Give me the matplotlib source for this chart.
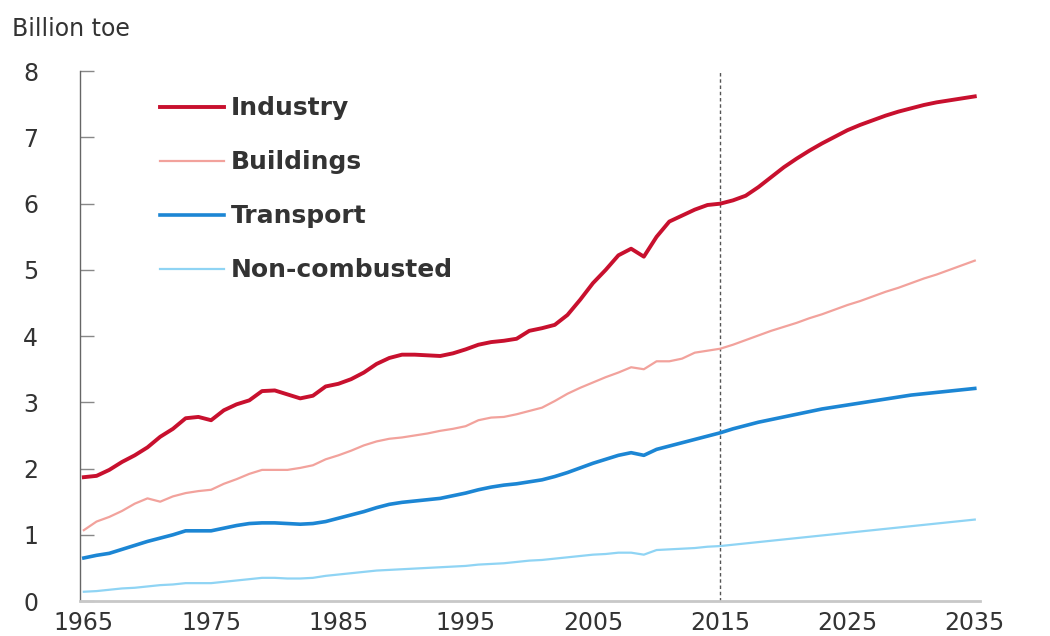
#!/usr/bin/env python3
"""Final energy consumption by sector, 1965-2035 (billion toe)."""

import matplotlib
matplotlib.use("Agg")
import matplotlib.pyplot as plt

years = list(range(1965, 2036))

industry = [
    1.87, 1.89, 1.98, 2.10, 2.20, 2.32, 2.48, 2.60, 2.76, 2.78,
    2.73, 2.88, 2.97, 3.03, 3.17, 3.18, 3.12, 3.06, 3.10, 3.24,
    3.28, 3.35, 3.45, 3.58, 3.67, 3.72, 3.72, 3.71, 3.70, 3.74,
    3.80, 3.87, 3.91, 3.93, 3.96, 4.08, 4.12, 4.17, 4.32, 4.55,
    4.80, 5.00, 5.22, 5.32, 5.20, 5.50, 5.73, 5.82, 5.91, 5.98,
    6.00, 6.05, 6.12, 6.25, 6.40, 6.55, 6.68, 6.80, 6.91, 7.01,
    7.11, 7.19, 7.26, 7.33, 7.39, 7.44, 7.49, 7.53, 7.56, 7.59,
    7.62,
]
buildings = [
    1.07, 1.20, 1.27, 1.36, 1.47, 1.55, 1.50, 1.58, 1.63, 1.66,
    1.68, 1.77, 1.84, 1.92, 1.98, 1.98, 1.98, 2.01, 2.05, 2.14,
    2.20, 2.27, 2.35, 2.41, 2.45, 2.47, 2.50, 2.53, 2.57, 2.60,
    2.64, 2.73, 2.77, 2.78, 2.82, 2.87, 2.92, 3.02, 3.13, 3.22,
    3.30, 3.38, 3.45, 3.53, 3.50, 3.62, 3.62, 3.66, 3.75, 3.78,
    3.81, 3.87, 3.94, 4.01, 4.08, 4.14, 4.20, 4.27, 4.33, 4.40,
    4.47, 4.53, 4.60, 4.67, 4.73, 4.80, 4.87, 4.93, 5.00, 5.07,
    5.14,
]
transport = [
    0.65, 0.69, 0.72, 0.78, 0.84, 0.90, 0.95, 1.00, 1.06, 1.06,
    1.06, 1.10, 1.14, 1.17, 1.18, 1.18, 1.17, 1.16, 1.17, 1.20,
    1.25, 1.30, 1.35, 1.41, 1.46, 1.49, 1.51, 1.53, 1.55, 1.59,
    1.63, 1.68, 1.72, 1.75, 1.77, 1.80, 1.83, 1.88, 1.94, 2.01,
    2.08, 2.14, 2.20, 2.24, 2.20, 2.29, 2.34, 2.39, 2.44, 2.49,
    2.54, 2.60, 2.65, 2.70, 2.74, 2.78, 2.82, 2.86, 2.90, 2.93,
    2.96, 2.99, 3.02, 3.05, 3.08, 3.11, 3.13, 3.15, 3.17, 3.19,
    3.21,
]
non_combusted = [
    0.14, 0.15, 0.17, 0.19, 0.20, 0.22, 0.24, 0.25, 0.27, 0.27,
    0.27, 0.29, 0.31, 0.33, 0.35, 0.35, 0.34, 0.34, 0.35, 0.38,
    0.40, 0.42, 0.44, 0.46, 0.47, 0.48, 0.49, 0.50, 0.51, 0.52,
    0.53, 0.55, 0.56, 0.57, 0.59, 0.61, 0.62, 0.64, 0.66, 0.68,
    0.70, 0.71, 0.73, 0.73, 0.70, 0.77, 0.78, 0.79, 0.80, 0.82,
    0.83, 0.85, 0.87, 0.89, 0.91, 0.93, 0.95, 0.97, 0.99, 1.01,
    1.03, 1.05, 1.07, 1.09, 1.11, 1.13, 1.15, 1.17, 1.19, 1.21,
    1.23,
]

x_ticks = [1965, 1975, 1985, 1995, 2005, 2015, 2025, 2035]
y_ticks = [0, 1, 2, 3, 4, 5, 6, 7, 8]
split_year = 2015

TEXT = "#333333"

fig = plt.figure(figsize=(10.5, 6.36), dpi=100)
ax = fig.add_axes([0.0762, 0.055, 0.857, 0.833])

ax.plot(years, industry, color="#c8102e", lw=2.8, label="Industry")
ax.plot(years, buildings, color="#f2a29c", lw=1.6, label="Buildings")
ax.plot(years, transport, color="#1c86d4", lw=2.6, label="Transport")
ax.plot(years, non_combusted, color="#8fd4f4", lw=1.6, label="Non-combusted")

ax.axvline(split_year, color="#555555", lw=1.0, ls=(0, (2.5, 2)), zorder=0)

ax.set_xlim(1964.7, 2035.4)
ax.set_ylim(0, 8)
ax.set_xticks(x_ticks)
ax.set_yticks(y_ticks)

for s in ("top", "right"):
    ax.spines[s].set_visible(False)
ax.spines["left"].set_color("#666666")
ax.spines["left"].set_linewidth(1.0)
ax.spines["bottom"].set_color("#c8c8c8")
ax.spines["bottom"].set_linewidth(2.0)

ax.tick_params(axis="y", direction="in", length=10, width=1, color="#888888",
               pad=30, labelsize=17, labelcolor=TEXT)
ax.tick_params(axis="x", length=0, pad=7, labelsize=17, labelcolor=TEXT)

fig.text(0.011, 0.955, "Billion toe", fontsize=17, color=TEXT, va="center")

leg = ax.legend(loc="upper left", bbox_to_anchor=(0.064, 0.995), frameon=False,
                prop={"size": 18, "weight": "semibold"}, handlelength=2.55,
                handletextpad=0.28, labelspacing=1.2)
for t in leg.get_texts():
    t.set_color(TEXT)

fig.savefig("out.png", dpi=100)
